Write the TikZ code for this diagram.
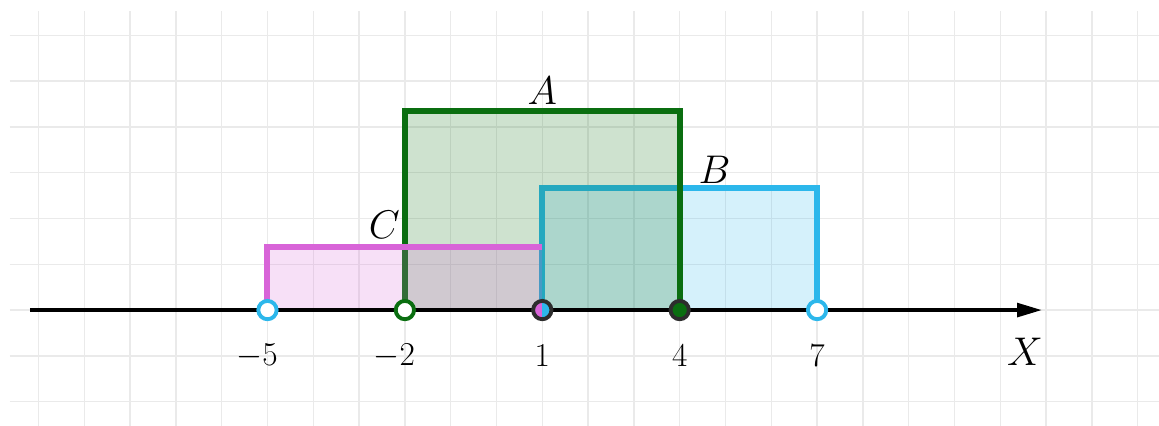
\documentclass[tikz,border=0pt]{standalone}
\usepackage{amsmath}
\usepackage{xcolor}
\usepackage{tikz}
\usetikzlibrary{arrows.meta, positioning}

\definecolor{grA}{RGB}{10,110,16}
\definecolor{blB}{RGB}{44,183,235}
\definecolor{mgC}{RGB}{216,100,216}
\definecolor{gridgray}{RGB}{234,234,234}
\definecolor{rimdark}{RGB}{45,45,45}

\begin{document}
\begin{tikzpicture}[
    gridline/.style={draw=gridgray, line width=0.9pt},
    axis/.style={-{Triangle[length=15.5pt, width=8.5pt]}, line width=2.3pt, black},
    setbox/.style={line width=3.7pt, line join=miter},
    dot/.style={circle, minimum size=0.40cm, inner sep=0pt, line width=2.4pt},
    opendot/.style={dot, fill=white},
    tick/.style={font=\fontsize{22}{26}\selectfont, anchor=center},
    setname/.style={font=\fontsize{30}{36}\selectfont, inner sep=3pt},
]
    \useasboundingbox (-10.84,-2.53) rectangle (14.465,6.77);

    % Grid
    \draw[gridline, step=1] (-10.63,-2.53) grid (14.465,6.53);

    % Sets
    \fill[blB, opacity=0.2] (1,0) rectangle (7,2.66);
    \draw[setbox, blB] (1,0) |- (7,2.66) -- (7,0);
    \fill[grA, opacity=0.2] (-2,0) rectangle (4,4.35);
    \draw[setbox, grA] (-2,0) |- (4,4.35) -- (4,0);
    \fill[mgC, opacity=0.2] (-5,0) rectangle (1,1.38);
    \draw[setbox, mgC] (-5,0) |- (1,1.38);

    % Axis
    \coordinate (xstart) at (-10.19,0);
    \coordinate (xend) at (11.91,0);
    \draw[axis] (xstart) -- (xend);

    % Labels
    \node[setname, anchor=south] (labA) at (1,4.38) {$A$};
    \node[setname, anchor=south west] (labB) at (4.3,2.66) {$B$};
    \node[setname, anchor=south east] (labC) at (-2.0,1.44) {$C$};
    \node[setname, anchor=center] (labX) at (11.54,-0.91) {$X$};
    \node[tick] (tm5) at (-5.23,-1.0) {$-5$};
    \node[tick] (tm2) at (-2.23,-1.0) {$-2$};
    \node[tick] (t1) at (1,-1.0) {$1$};
    \node[tick] (t4) at (4,-1.0) {$4$};
    \node[tick] (t7) at (7,-1.0) {$7$};

    % End points
    \node[opendot, draw=blB] (pm5) at (-5,0) {};
    \node[opendot, draw=grA] (pm2) at (-2,0) {};
    \node[dot, draw=rimdark, path picture={
        \fill[mgC] (path picture bounding box.south west) rectangle (path picture bounding box.north);
        \fill[blB] (path picture bounding box.south) rectangle (path picture bounding box.north east);
    }] (p1) at (1,0) {};
    \node[dot, draw=rimdark, fill=grA] (p4) at (4,0) {};
    \node[opendot, draw=blB] (p7) at (7,0) {};
\end{tikzpicture}
\end{document}
